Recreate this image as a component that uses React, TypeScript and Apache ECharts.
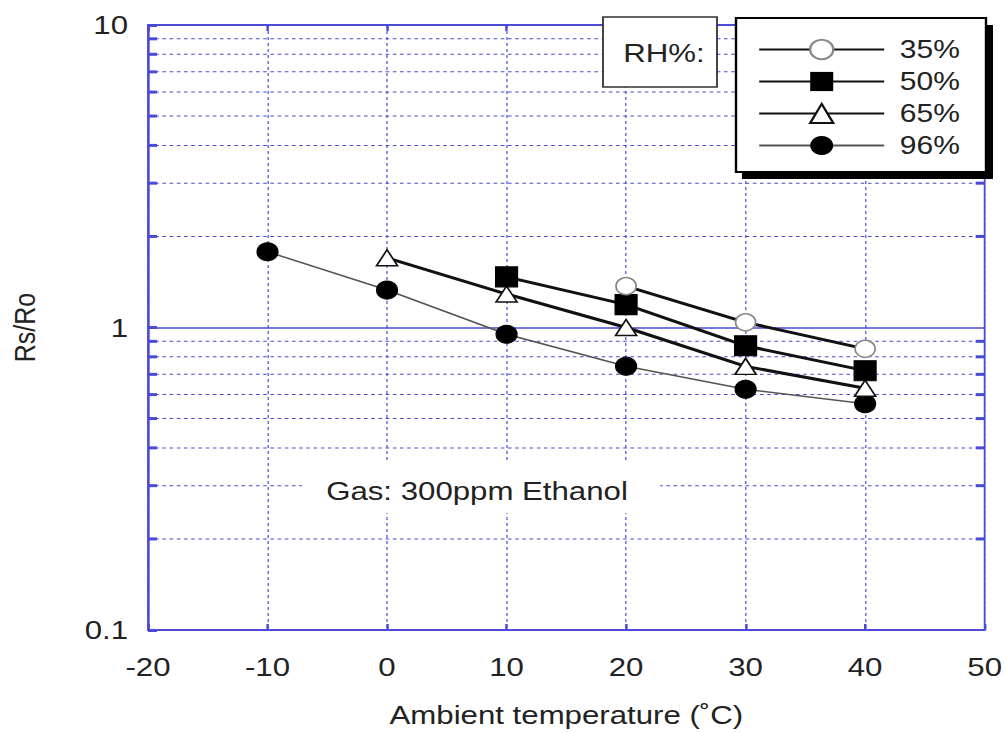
import React, { useEffect, useRef } from "react";
import * as echarts from "echarts";

const temps = [-10, 0, 10, 20, 30, 40];
const rh35 = [null, null, null, 1.37, 1.04, 0.85];
const rh50 = [null, null, 1.47, 1.19, 0.87, 0.72];
const rh65 = [null, 1.7, 1.29, 1.0, 0.744, 0.63];
const rh96 = [1.78, 1.33, 0.95, 0.745, 0.625, 0.56];
const seriesNames = ["35%", "50%", "65%", "96%"];
const minorValues = [0.2, 0.3, 0.4, 0.5, 0.6, 0.7, 0.8, 0.9, 2, 3, 4, 5, 6, 7, 8, 9];
const xMin = -20;
const xMax = 50;
const xInterval = 10;
const yMin = 0.1;
const yMax = 10;

const GRID = "#4a4ad8";
const FONT = "'Liberation Sans', Arial, sans-serif";
// The reference picture is stretched horizontally; the chart is drawn narrower and stretched by CSS.
const SX = 1.2;
const W = 1005;
const H = 733;
const sx = (v: number) => v / SX;

function pairs(vals: (number | null)[]) {
  const out: [number, number][] = [];
  vals.forEach((v, i) => {
    if (v != null) out.push([temps[i], v]);
  });
  return out;
}

export default function App() {
  const ref = useRef<HTMLDivElement>(null);
  useEffect(() => {
    document.body.style.margin = "0";
    const chart = echarts.init(ref.current!, null, { renderer: "svg" });
    const lineSeries = (name: string, vals: (number | null)[], symbol: string, size: any, color: string, width: number, itemStyle: any) => ({
      type: "line",
      name,
      data: pairs(vals),
      symbol,
      symbolSize: size,
      showSymbol: true,
      lineStyle: { color, width },
      itemStyle,
      z: 5,
    });
    chart.setOption({
      animation: false,
      backgroundColor: "#ffffff",
      textStyle: { fontFamily: FONT },
      grid: {
        left: sx(148),
        top: 25,
        right: sx(W - 988),
        bottom: H - 633,
        show: true,
        borderColor: GRID,
        borderWidth: 1.5,
        backgroundColor: "transparent",
      },
      legend: {
        orient: "vertical",
        left: sx(758),
        top: 37,
        padding: 0,
        itemWidth: sx(125),
        itemHeight: 24,
        itemGap: 7,
        data: seriesNames,
        textStyle: { fontSize: 25, lineHeight: 24, color: "#222", fontFamily: FONT, padding: [0, 0, 0, 8] },
        z: 60,
      },
      xAxis: [
        {
          type: "value",
          min: xMin,
          max: xMax,
          interval: xInterval,
          name: "Ambient temperature (˚C)",
          nameLocation: "middle",
          nameGap: 72,
          nameTextStyle: { fontSize: 26, color: "#222" },
          axisLine: { show: true, onZero: false, lineStyle: { color: GRID, width: 1.5 } },
          axisTick: { show: true, inside: true, length: 6, lineStyle: { color: GRID, width: 2 } },
          axisLabel: { fontSize: 26, color: "#222", margin: 24 },
          splitLine: { show: true, lineStyle: { color: GRID, type: [3, 3], width: 1 } },
        },
        {
          type: "value",
          position: "top",
          min: xMin,
          max: xMax,
          interval: xInterval,
          axisLine: { show: true, onZero: false, lineStyle: { color: GRID, width: 1.5 } },
          axisTick: { show: true, inside: true, length: 6, lineStyle: { color: GRID, width: 2 } },
          axisLabel: { show: false },
          splitLine: { show: false },
        },
      ],
      yAxis: [
        {
          type: "log",
          logBase: 10,
          min: yMin,
          max: yMax,
          name: "Rs/Ro",
          nameLocation: "middle",
          nameGap: 90,
          nameTextStyle: { fontSize: 25, color: "#222" },
          axisLine: { show: true, onZero: false, lineStyle: { color: GRID, width: 1.5 } },
          axisTick: { show: true, inside: true, length: 7.5, lineStyle: { color: GRID, width: 3 } },
          axisLabel: {
            fontSize: 26,
            color: "#222",
            margin: sx(20),
            formatter: (v: number) => (v < 1 ? v.toFixed(1) : String(Math.round(v))),
          },
          splitLine: { show: true, lineStyle: { color: GRID, type: "solid", width: 1.5 } },
        },
      ],
      graphic: [
        {
          type: "rect",
          z: 50,
          shape: { x: sx(302), y: 463, width: sx(358), height: 50 },
          style: { fill: "#ffffff" },
        },
        {
          type: "text",
          z: 51,
          x: sx(477),
          y: 491,
          style: { text: "Gas: 300ppm Ethanol", font: `26px ${FONT}`, fill: "#222", align: "center", verticalAlign: "middle" },
        },
        {
          type: "rect",
          z: 50,
          shape: { x: sx(603), y: 17, width: sx(114), height: 70 },
          style: { fill: "#ffffff", stroke: "#333", lineWidth: 1.5 },
        },
        {
          type: "text",
          z: 51,
          x: sx(664),
          y: 53,
          style: { text: "RH%:", font: `26px ${FONT}`, fill: "#222", align: "center", verticalAlign: "middle" },
        },
        {
          type: "rect",
          z: 48,
          shape: { x: sx(742), y: 25, width: sx(251), height: 154 },
          style: { fill: "#000000" },
        },
        {
          type: "rect",
          z: 49,
          shape: { x: sx(736), y: 18, width: sx(250), height: 154 },
          style: { fill: "#ffffff", stroke: "#000", lineWidth: 2 },
        },
      ],
      series: [
        {
          type: "custom",
          name: "minorGrid",
          silent: true,
          z: 1,
          data: minorValues.map((v) => [xMin, v]),
          renderItem: (params: any, api: any) => {
            const cs = params.coordSys;
            const y = api.coord([xMin, api.value(1)])[1];
            const t = sx(9);
            return {
              type: "group",
              children: [
                {
                  type: "line",
                  shape: { x1: cs.x, y1: y, x2: cs.x + cs.width, y2: y },
                  style: { stroke: GRID, lineWidth: 1, lineDash: [3, 3] },
                },
                {
                  type: "line",
                  shape: { x1: cs.x, y1: y, x2: cs.x + t, y2: y },
                  style: { stroke: GRID, lineWidth: 3 },
                },
                {
                  type: "line",
                  shape: { x1: cs.x + cs.width - t, y1: y, x2: cs.x + cs.width, y2: y },
                  style: { stroke: GRID, lineWidth: 3 },
                },
              ],
            };
          },
        },
        lineSeries("96%", rh96, "circle", [sx(21), 18], "#555", 1.5, { color: "#000", borderColor: "#000" }),
        lineSeries("65%", rh65, "triangle", [sx(21), 16], "#111", 3, { color: "#fff", borderColor: "#111", borderWidth: 1.5 }),
        lineSeries("50%", rh50, "rect", [sx(22), 20], "#111", 3, { color: "#000", borderColor: "#000" }),
        lineSeries("35%", rh35, "circle", [sx(20), 17], "#111", 3, { color: "#fff", borderColor: "#888", borderWidth: 1.5 }),
      ],
    });
    return () => chart.dispose();
  }, []);
  return (
    <div style={{ width: W, height: H, overflow: "hidden" }}>
      <div ref={ref} style={{ width: W / SX, height: H, transform: `scaleX(${SX})`, transformOrigin: "0 0" }} />
    </div>
  );
}
